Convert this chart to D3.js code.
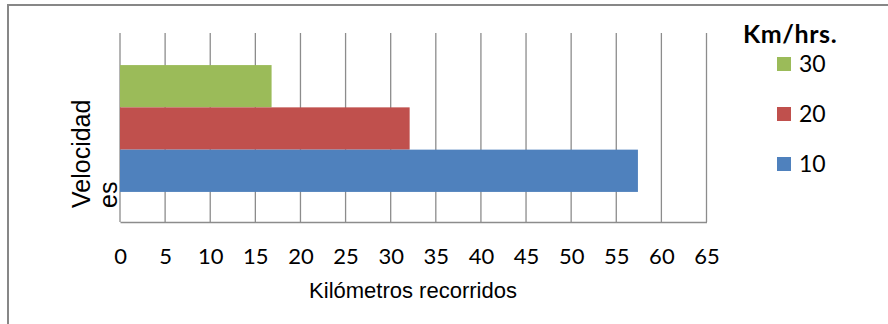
<!DOCTYPE html>
<html>
<head>
<meta charset="utf-8">
<script src="https://cdn.jsdelivr.net/npm/d3@7"></script>
<style>
  html, body { margin: 0; padding: 0; background: #fff; }
  svg { display: block; }
</style>
</head>
<body>
<svg id="chart" width="888" height="324"></svg>
<script>
// Distance covered at each speed (km/h)
const series = ["30", "20", "10"];
const distances = [16.8, 32.1, 57.4];
const colors = ["#9bbb59", "#c0504d", "#4f81bd"];
const xTicks = [0, 5, 10, 15, 20, 25, 30, 35, 40, 45, 50, 55, 60, 65];
const category = ["Velocidades"];
const xTitle = "Kilómetros recorridos";
const yTitleLines = ["Velocidad", "es"];
const legendTitle = "Km/hrs.";

const svg = d3.select("#chart");
const plot = { left: 120, right: 706.5, top: 33, bottom: 222 };
const tickFont = "Lato, 'Open Sans', sans-serif";
const titleFont = "Arial, 'Liberation Sans', sans-serif";

// outer chart frame
svg.append("rect")
  .attr("x", 8).attr("y", 5)
  .attr("width", 900).attr("height", 340)
  .attr("fill", "none").attr("stroke", "#878787").attr("stroke-width", 2);

const x = d3.scaleLinear().domain([0, 65]).range([plot.left, plot.right]);
const yCat = d3.scaleBand().domain(category).range([plot.top + 1, plot.bottom + 1]).paddingInner(0).paddingOuter(0.245);
const ySeries = d3.scaleBand().domain(series).range([0, yCat.bandwidth()]);

// vertical gridlines
svg.append("g").selectAll("line").data(xTicks).join("line")
  .attr("x1", d => x(d)).attr("x2", d => x(d))
  .attr("y1", plot.top).attr("y2", plot.bottom)
  .attr("stroke", "#8c8c8c").attr("stroke-width", 1.3);

// bars
svg.append("g").selectAll("rect").data(series).join("rect")
  .attr("x", x(0))
  .attr("y", (d) => yCat(category[0]) + ySeries(d))
  .attr("width", (d, i) => x(distances[i]) - x(0))
  .attr("height", ySeries.bandwidth())
  .attr("fill", (d, i) => colors[i]);

// x axis
const xAxis = d3.axisBottom(x).tickValues(xTicks).tickSize(0).tickPadding(26);
const gx = svg.append("g").attr("transform", `translate(0,${plot.bottom})`).call(xAxis);
gx.select(".domain").attr("stroke", "#8c8c8c").attr("stroke-width", 1.3);
gx.selectAll("text").attr("font-family", tickFont).attr("font-size", 22).attr("fill", "#000");

// axis titles
svg.append("text")
  .attr("x", 413).attr("y", 298)
  .attr("text-anchor", "middle")
  .attr("font-family", titleFont).attr("font-size", 22)
  .text(xTitle);

const yTitle = svg.append("text")
  .attr("transform", "translate(90,208) rotate(-90)")
  .attr("font-family", titleFont).attr("font-size", 25);
yTitleLines.forEach((t, i) => {
  yTitle.append("tspan").attr("x", 0).attr("y", i * 27).text(t);
});

// legend
const legend = svg.append("g");
legend.append("text")
  .attr("x", 743).attr("y", 43)
  .attr("font-family", tickFont).attr("font-weight", "bold").attr("font-size", 25)
  .attr("letter-spacing", 0.6)
  .text(legendTitle);
const items = legend.selectAll("g.item").data(series).join("g")
  .attr("class", "item")
  .attr("transform", (d, i) => `translate(777,${57 + i * 50})`);
items.append("rect").attr("width", 14).attr("height", 14).attr("fill", (d, i) => colors[i]);
items.append("text")
  .attr("x", 22).attr("y", 14.5)
  .attr("font-family", tickFont).attr("font-size", 23)
  .text(d => d);
</script>
</body>
</html>
